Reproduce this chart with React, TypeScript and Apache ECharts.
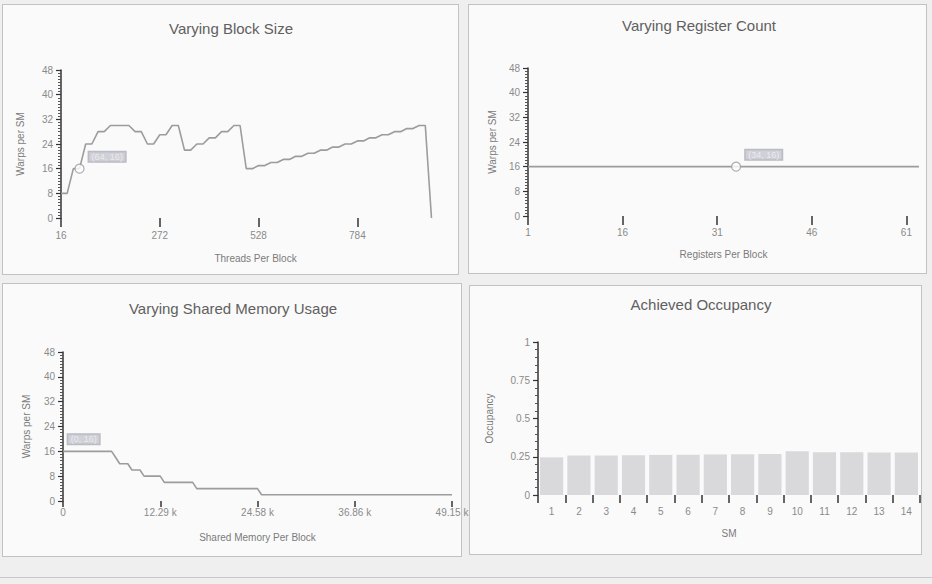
import React, { useEffect, useRef } from "react";
import * as echarts from "echarts";

// ---- Data ----
const blockThreads = [
  16, 32, 48, 64, 80, 96, 112, 128, 144, 160, 176, 192, 208, 224, 240, 256,
  272, 288, 304, 320, 336, 352, 368, 384, 400, 416, 432, 448, 464, 480, 496, 512,
  528, 544, 560, 576, 592, 608, 624, 640, 656, 672, 688, 704, 720, 736, 752, 768,
  784, 800, 816, 832, 848, 864, 880, 896, 912, 928, 944, 960, 976,
];
const blockWarps = [
  8, 8, 16, 16, 24, 24, 28, 28, 30, 30, 30, 30, 28, 28, 24, 24,
  27, 27, 30, 30, 22, 22, 24, 24, 26, 26, 28, 28, 30, 30, 16, 16,
  17, 17, 18, 18, 19, 19, 20, 20, 21, 21, 22, 22, 23, 23, 24, 24,
  25, 25, 26, 26, 27, 27, 28, 28, 29, 29, 30, 30, 0,
];
const blockMarker = [64, 16];
const blockTicks = [16, 272, 528, 784];

const regCounts = [1, 16, 31, 34, 46, 61, 63];
const regWarps = [16, 16, 16, 16, 16, 16, 16];
const regMarker = [34, 16];
const regTicks = [1, 16, 31, 46, 61];

const smemBytes = [0, 6144, 6656, 7168, 8192, 8704, 9728, 10240, 12288, 12800, 16384, 16896, 24576, 25088, 49152];
const smemWarps = [16, 16, 14, 12, 12, 10, 10, 8, 8, 6, 6, 4, 4, 2, 2];
const smemMarker = [0, 16];

const smLabels = ["1", "2", "3", "4", "5", "6", "7", "8", "9", "10", "11", "12", "13", "14"];
const occupancy = [0.246, 0.258, 0.258, 0.259, 0.262, 0.263, 0.265, 0.266, 0.268, 0.286, 0.279, 0.279, 0.278, 0.278];

const FONT = "'Liberation Sans', Arial, sans-serif";
const LABEL_COLOR = "#8a8a8a";
const NAME_COLOR = "#7a7a7a";
const AXIS_COLOR = "#333";
const LINE_COLOR = "#9c9c9c";

const panels = [
  { left: 2, top: 4, width: 457, height: 271 },
  { left: 468, top: 4, width: 459, height: 270 },
  { left: 2, top: 283, width: 460, height: 274 },
  { left: 469, top: 285, width: 453, height: 270 },
];

function yAxisBase(gridIndex: number, nameGap: number) {
  return {
    type: "value" as const,
    gridIndex,
    min: 0,
    max: 48,
    interval: 8,
    name: "Warps per SM",
    nameLocation: "middle" as const,
    nameGap,
    nameTextStyle: { color: NAME_COLOR, fontSize: 10, fontFamily: FONT },
    axisLine: { show: true, lineStyle: { color: AXIS_COLOR, width: 1.5 } },
    axisTick: { show: true, length: 5, lineStyle: { color: AXIS_COLOR, width: 1.2 } },
    minorTick: { show: true, splitNumber: 8, length: 3, lineStyle: { color: "#555", width: 1 } },
    axisLabel: { color: LABEL_COLOR, fontSize: 10, margin: 8, fontFamily: FONT },
    splitLine: { show: false },
  };
}

function markerSeries(xAxisIndex: number, point: number[], text: string, size: number) {
  return {
    type: "scatter" as const,
    xAxisIndex,
    yAxisIndex: xAxisIndex,
    data: [point],
    symbol: "circle",
    symbolSize: size,
    z: 5,
    itemStyle: { color: "#ffffff", borderColor: "#999", borderWidth: 1.2 },
    label: {
      show: true,
      position: "right" as const,
      distance: 4,
      offset: [0, -12],
      formatter: text,
      backgroundColor: "#c6c6cf",
      borderColor: "#a9a9b2",
      borderWidth: 1,
      color: "#f2f2f2",
      fontSize: 9,
      fontFamily: FONT,
      padding: [1, 3, 0, 3],
    },
  };
}

export default function App() {
  const ref = useRef<HTMLDivElement>(null);

  useEffect(() => {
    if (!ref.current) return;
    const chart = echarts.init(ref.current, undefined, { renderer: "svg" });
    const titleStyle = { color: "#606060", fontSize: 15, fontWeight: "normal" as const, fontFamily: FONT };
    chart.setOption({
      animation: false,
      backgroundColor: "transparent",
      textStyle: { fontFamily: FONT },
      title: [
        { text: "Varying Block Size", left: 231, top: 21, textAlign: "center", padding: 0, textStyle: titleStyle },
        { text: "Varying Register Count", left: 699, top: 18, textAlign: "center", padding: 0, textStyle: titleStyle },
        { text: "Varying Shared Memory Usage", left: 233, top: 301, textAlign: "center", padding: 0, textStyle: titleStyle },
        { text: "Achieved Occupancy", left: 701, top: 297, textAlign: "center", padding: 0, textStyle: titleStyle },
      ],
      grid: [
        { left: 61, top: 70, width: 389, height: 148 },
        { left: 528, top: 68, width: 391, height: 148 },
        { left: 63, top: 352, width: 389, height: 149 },
        { left: 538, top: 342, width: 382, height: 153 },
      ],
      xAxis: [
        {
          type: "value",
          gridIndex: 0,
          min: 16,
          max: 1024,
          name: "Threads Per Block",
          nameLocation: "middle",
          nameGap: 35,
          nameTextStyle: { color: NAME_COLOR, fontSize: 10 },
          axisLine: { show: false },
          axisTick: { show: true, length: 9, customValues: blockTicks, lineStyle: { color: AXIS_COLOR, width: 1.5 } },
          axisLabel: { customValues: blockTicks, color: LABEL_COLOR, fontSize: 10, margin: 12 },
          splitLine: { show: false },
        },
        {
          type: "value",
          gridIndex: 1,
          min: 1,
          max: 63,
          name: "Registers Per Block",
          nameLocation: "middle",
          nameGap: 33,
          nameTextStyle: { color: NAME_COLOR, fontSize: 10 },
          axisLine: { show: false },
          axisTick: { show: true, length: 9, customValues: regTicks, lineStyle: { color: AXIS_COLOR, width: 1.5 } },
          axisLabel: { customValues: regTicks, color: LABEL_COLOR, fontSize: 10, margin: 11 },
          splitLine: { show: false },
        },
        {
          type: "value",
          gridIndex: 2,
          min: 0,
          max: 49152,
          interval: 12288,
          name: "Shared Memory Per Block",
          nameLocation: "middle",
          nameGap: 31,
          nameTextStyle: { color: NAME_COLOR, fontSize: 10 },
          axisLine: { show: false },
          axisTick: { show: true, length: 6, lineStyle: { color: AXIS_COLOR, width: 1.5 } },
          axisLabel: {
            color: LABEL_COLOR,
            fontSize: 10,
            margin: 6,
            formatter: (v: number) => (v === 0 ? "0" : (v / 1000).toFixed(2) + " k"),
          },
          splitLine: { show: false },
        },
        {
          type: "category",
          gridIndex: 3,
          data: smLabels,
          name: "SM",
          nameLocation: "middle",
          nameGap: 33,
          nameTextStyle: { color: NAME_COLOR, fontSize: 10 },
          axisLine: { show: false },
          axisTick: { show: true, length: 8, lineStyle: { color: AXIS_COLOR, width: 1.5 } },
          axisLabel: { color: LABEL_COLOR, fontSize: 10, margin: 11 },
          splitLine: { show: false },
        },
      ],
      yAxis: [
        yAxisBase(0, 36),
        yAxisBase(1, 31),
        yAxisBase(2, 32),
        {
          type: "value",
          gridIndex: 3,
          min: 0,
          max: 1,
          interval: 0.25,
          name: "Occupancy",
          nameLocation: "middle",
          nameGap: 44,
          nameTextStyle: { color: NAME_COLOR, fontSize: 10 },
          axisLine: { show: true, lineStyle: { color: AXIS_COLOR, width: 1.5 } },
          axisTick: { show: true, length: 5, lineStyle: { color: AXIS_COLOR, width: 1.2 } },
          minorTick: { show: true, splitNumber: 5, length: 3, lineStyle: { color: "#555", width: 1 } },
          axisLabel: { color: LABEL_COLOR, fontSize: 10, margin: 8 },
          splitLine: { show: false },
        },
      ],
      series: [
        {
          type: "line",
          xAxisIndex: 0,
          yAxisIndex: 0,
          data: blockThreads.map((t, i) => [t, blockWarps[i]]),
          showSymbol: false,
          lineStyle: { color: LINE_COLOR, width: 1.6 },
        },
        markerSeries(0, blockMarker, "(64, 16)", 9),
        {
          type: "line",
          xAxisIndex: 1,
          yAxisIndex: 1,
          data: regCounts.map((r, i) => [r, regWarps[i]]),
          showSymbol: false,
          lineStyle: { color: LINE_COLOR, width: 1.6 },
        },
        markerSeries(1, regMarker, "(34, 16)", 9),
        {
          type: "line",
          xAxisIndex: 2,
          yAxisIndex: 2,
          data: smemBytes.map((b, i) => [b, smemWarps[i]]),
          showSymbol: false,
          lineStyle: { color: LINE_COLOR, width: 1.6 },
        },
        markerSeries(2, smemMarker, "(0, 16)", 0.1),
        {
          type: "bar",
          xAxisIndex: 3,
          yAxisIndex: 3,
          data: occupancy,
          barCategoryGap: "15%",
          itemStyle: { color: "#d9d9dc" },
        },
      ],
    });
    return () => chart.dispose();
  }, []);

  return (
    <div style={{ position: "absolute", left: 0, top: 0, width: 932, height: 584, background: "#efefef", overflow: "hidden" }}>
      {panels.map((p, i) => (
        <div
          key={i}
          style={{
            position: "absolute",
            left: p.left,
            top: p.top,
            width: p.width,
            height: p.height,
            boxSizing: "border-box",
            border: "1px solid #c2c2c2",
            background: "#fafafa",
          }}
        />
      ))}
      <div style={{ position: "absolute", left: 0, top: 577, width: 932, height: 1, background: "#c8c8c8" }} />
      <div ref={ref} style={{ position: "absolute", left: 0, top: 0, width: 932, height: 584 }} />
    </div>
  );
}
